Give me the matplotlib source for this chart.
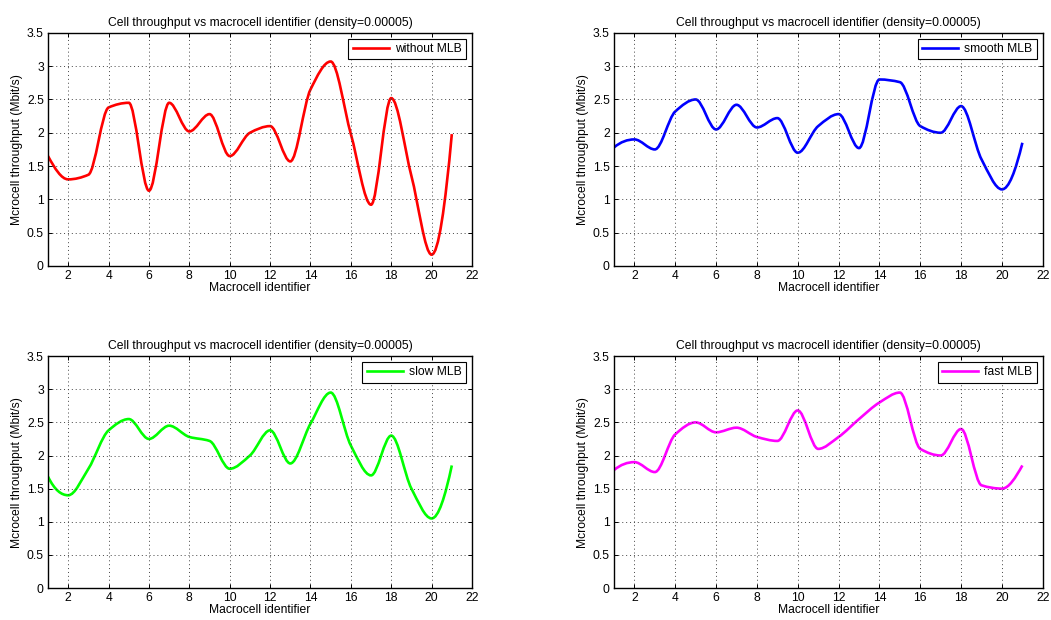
import numpy as np
import matplotlib
matplotlib.use("Agg")
import matplotlib.pyplot as plt
from matplotlib.path import Path
from matplotlib.patches import PathPatch
from matplotlib.lines import Line2D

plt.rcParams['font.family'] = ['Liberation Sans', 'DejaVu Sans']

cells = np.arange(1, 22)
without_mlb = [1.65, 1.30, 1.37, 2.38, 2.45, 1.13, 2.45, 2.02, 2.28, 1.65, 2.00,
               2.10, 1.57, 2.65, 3.07, 1.98, 0.92, 2.52, 1.35, 0.17, 1.98]
smooth_mlb = [1.78, 1.90, 1.75, 2.32, 2.50, 2.05, 2.42, 2.08, 2.22, 1.70, 2.10,
              2.28, 1.77, 2.80, 2.76, 2.10, 2.00, 2.40, 1.60, 1.15, 1.85]
slow_mlb = [1.68, 1.40, 1.80, 2.38, 2.55, 2.25, 2.45, 2.28, 2.22, 1.80, 2.00,
            2.38, 1.88, 2.48, 2.95, 2.15, 1.70, 2.30, 1.50, 1.05, 1.85]
fast_mlb = [1.78, 1.90, 1.75, 2.32, 2.50, 2.35, 2.42, 2.28, 2.22, 2.68, 2.10,
            2.28, 2.55, 2.80, 2.95, 2.10, 2.00, 2.40, 1.55, 1.50, 1.85]

series = [(without_mlb, 'without MLB', '#ff0000'),
          (smooth_mlb, 'smooth MLB', '#0000ff'),
          (slow_mlb, 'slow MLB', '#00ff00'),
          (fast_mlb, 'fast MLB', '#ff00ff')]

title = 'Cell throughput vs macrocell identifier (density=0.00005)'


def pchip_slopes(x, y):
    # monotone cubic slopes, like matlab pchip
    h = np.diff(x)
    d = np.diff(y) / h
    m = np.zeros(len(x))
    for k in range(1, len(x) - 1):
        if d[k - 1] * d[k] > 0:
            w1 = 2 * h[k] + h[k - 1]
            w2 = h[k] + 2 * h[k - 1]
            m[k] = (w1 + w2) / (w1 / d[k - 1] + w2 / d[k])
    m[0] = ((2 * h[0] + h[1]) * d[0] - h[0] * d[1]) / (h[0] + h[1])
    if np.sign(m[0]) != np.sign(d[0]):
        m[0] = 0
    m[-1] = ((2 * h[-1] + h[-2]) * d[-1] - h[-1] * d[-2]) / (h[-1] + h[-2])
    if np.sign(m[-1]) != np.sign(d[-1]):
        m[-1] = 0
    return m


def curve_path(x, y):
    x = np.asarray(x, float)
    y = np.asarray(y, float)
    m = pchip_slopes(x, y)
    verts = [(x[0], y[0])]
    codes = [Path.MOVETO]
    for k in range(len(x) - 1):
        h = x[k + 1] - x[k]
        verts += [(x[k] + h / 3, y[k] + m[k] * h / 3),
                  (x[k + 1] - h / 3, y[k + 1] - m[k + 1] * h / 3),
                  (x[k + 1], y[k + 1])]
        codes += [Path.CURVE4] * 3
    return Path(verts, codes)


fig = plt.figure(figsize=(10.51, 6.2), dpi=100)
positions = [[0.0457, 0.571, 0.4034, 0.376],
             [0.5842, 0.571, 0.408, 0.376],
             [0.0457, 0.0516, 0.4034, 0.374],
             [0.5842, 0.0516, 0.408, 0.374]]

fs = 8.7
for pos, (vals, label, color) in zip(positions, series):
    ax = fig.add_axes(pos)
    patch = PathPatch(curve_path(cells, vals), facecolor='none',
                      edgecolor=color, lw=1.9)
    ax.add_patch(patch)
    ax.set_xlim(1, 22)
    ax.set_ylim(0, 3.5)
    ax.set_xticks(np.arange(2, 23, 2))
    ax.set_yticks(np.arange(0, 3.51, 0.5))
    ax.set_yticklabels(['0', '0.5', '1', '1.5', '2', '2.5', '3', '3.5'])
    ax.grid(True, color='#444444', linestyle=(0, (1, 3)), linewidth=0.7)
    ax.tick_params(direction='in', top=True, right=True, labelsize=fs,
                   length=3, width=0.7, pad=3)
    for s in ax.spines.values():
        s.set_linewidth(1.0)
    ax.set_title(title, fontsize=fs, pad=5)
    ax.set_xlabel('Macrocell identifier', fontsize=fs, labelpad=0)
    ax.set_ylabel('Mcrocell throughput (Mbit/s)', fontsize=fs, labelpad=3)
    handle = Line2D([], [], color=color, lw=1.9)
    leg = ax.legend([handle], [label], loc='upper right', fontsize=fs,
                    fancybox=False, framealpha=1, edgecolor='black',
                    handlelength=3.0, borderaxespad=0.5, borderpad=0.35,
                    handletextpad=0.5)
    leg.get_frame().set_linewidth(0.8)

fig.savefig('out.png', dpi=100)
